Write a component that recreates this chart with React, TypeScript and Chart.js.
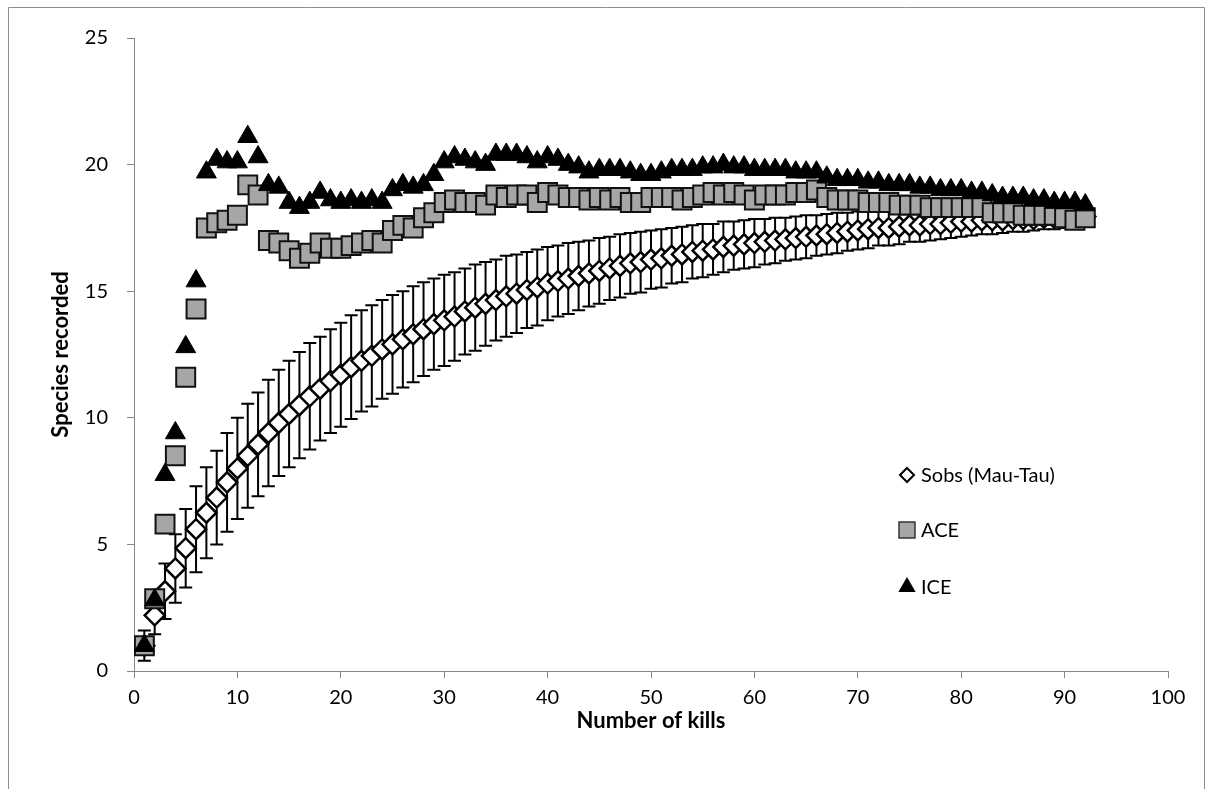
import { useEffect, useRef } from "react";
import { Chart, registerables } from "chart.js";

Chart.register(...registerables);

// Number of kills sampled (x positions of every series)
const kills = [
  1, 2, 3, 4, 5, 6, 7, 8, 9, 10, 11, 12, 13, 14, 15, 16, 17, 18, 19, 20,
  21, 22, 23, 24, 25, 26, 27, 28, 29, 30, 31, 32, 33, 34, 35, 36, 37, 38, 39, 40,
  41, 42, 43, 44, 45, 46, 47, 48, 49, 50, 51, 52, 53, 54, 55, 56, 57, 58, 59, 60,
  61, 62, 63, 64, 65, 66, 67, 68, 69, 70, 71, 72, 73, 74, 75, 76, 77, 78, 79, 80,
  81, 82, 83, 84, 85, 86, 87, 88, 89, 90, 91, 92,
];

// Sobs (Mau-Tau) expected species richness
const sobs = [
  1.0, 2.2, 3.15, 4.05, 4.85, 5.6, 6.25, 6.85, 7.45, 8.0,
  8.5, 8.95, 9.4, 9.8, 10.15, 10.5, 10.85, 11.15, 11.45, 11.7,
  12.0, 12.25, 12.45, 12.7, 12.9, 13.1, 13.3, 13.5, 13.7, 13.85,
  14.0, 14.2, 14.35, 14.5, 14.65, 14.8, 14.9, 15.05, 15.15, 15.3,
  15.4, 15.5, 15.6, 15.7, 15.8, 15.9, 16.0, 16.1, 16.15, 16.25,
  16.3, 16.4, 16.45, 16.55, 16.6, 16.65, 16.75, 16.8, 16.85, 16.9,
  16.95, 17.0, 17.05, 17.1, 17.15, 17.2, 17.25, 17.3, 17.35, 17.4,
  17.45, 17.5, 17.5, 17.55, 17.6, 17.6, 17.65, 17.65, 17.7, 17.75,
  17.75, 17.8, 17.8, 17.8, 17.85, 17.85, 17.85, 17.9, 17.9, 17.9,
  17.95, 17.95,
];

// Standard deviation of Sobs (error bars)
const sobsSd = [
  0.6, 0.75, 1.1, 1.35, 1.55, 1.7, 1.8, 1.85, 1.95, 2.0,
  2.05, 2.05, 2.1, 2.1, 2.1, 2.1, 2.1, 2.05, 2.05, 2.05,
  2.05, 2.0, 2.0, 1.95, 1.95, 1.9, 1.9, 1.85, 1.8, 1.8,
  1.75, 1.7, 1.7, 1.65, 1.6, 1.6, 1.55, 1.5, 1.5, 1.45,
  1.4, 1.4, 1.35, 1.3, 1.3, 1.25, 1.25, 1.2, 1.2, 1.15,
  1.15, 1.1, 1.1, 1.05, 1.05, 1.0, 1.0, 0.95, 0.95, 0.95,
  0.9, 0.9, 0.85, 0.85, 0.85, 0.8, 0.8, 0.8, 0.75, 0.75,
  0.75, 0.7, 0.7, 0.7, 0.65, 0.65, 0.65, 0.6, 0.6, 0.6,
  0.55, 0.55, 0.55, 0.5, 0.5, 0.5, 0.45, 0.45, 0.45, 0.4,
  0.4, 0.4,
];

// ACE estimator
const ace = [
  1.0, 2.85, 5.8, 8.5, 11.6, 14.3, 17.5, 17.7, 17.8, 18.0,
  19.2, 18.8, 17.0, 16.9, 16.6, 16.3, 16.5, 16.9, 16.7, 16.7,
  16.8, 16.9, 17.0, 16.9, 17.4, 17.6, 17.5, 17.9, 18.1, 18.5,
  18.6, 18.5, 18.5, 18.4, 18.8, 18.7, 18.8, 18.8, 18.5, 18.9,
  18.8, 18.7, 18.7, 18.6, 18.7, 18.6, 18.7, 18.5, 18.5, 18.7,
  18.7, 18.7, 18.6, 18.7, 18.8, 18.9, 18.8, 18.9, 18.8, 18.6,
  18.8, 18.8, 18.8, 18.9, 18.9, 19.0, 18.7, 18.6, 18.6, 18.6,
  18.5, 18.5, 18.5, 18.4, 18.4, 18.4, 18.3, 18.3, 18.3, 18.3,
  18.3, 18.3, 18.1, 18.1, 18.1, 18.0, 18.0, 18.0, 18.0, 17.9,
  17.8, 17.9,
];

// ICE estimator
const ice = [
  1.0, 2.8, 7.75, 9.4, 12.8, 15.4, 19.7, 20.2, 20.1, 20.1,
  21.1, 20.3, 19.2, 19.1, 18.5, 18.3, 18.5, 18.9, 18.6, 18.5,
  18.6, 18.5, 18.6, 18.5, 19.0, 19.2, 19.1, 19.2, 19.6, 20.1,
  20.3, 20.2, 20.1, 20.0, 20.4, 20.4, 20.4, 20.3, 20.1, 20.3,
  20.2, 20.0, 19.9, 19.7, 19.8, 19.8, 19.8, 19.7, 19.6, 19.6,
  19.7, 19.8, 19.8, 19.8, 19.9, 19.9, 20.0, 19.9, 19.9, 19.8,
  19.8, 19.8, 19.8, 19.7, 19.7, 19.7, 19.5, 19.4, 19.4, 19.4,
  19.3, 19.3, 19.2, 19.2, 19.2, 19.1, 19.1, 19.0, 19.0, 19.0,
  18.9, 18.9, 18.8, 18.7, 18.7, 18.7, 18.6, 18.6, 18.5, 18.5,
  18.5, 18.4,
];

const seriesNames = ["Sobs (Mau-Tau)", "ACE", "ICE"];
const xTitle = "Number of kills";
const yTitle = "Species recorded";

const FONT = "Lato, 'Open Sans', sans-serif";
const AXIS_GREY = "#868686";
const ACE_FILL = "#a6a6a6";

const toPoints = (ys: number[]) => kills.map((k, i) => ({ x: k, y: ys[i] }));

// Vertical error bars with caps, drawn beneath the markers
const errorBarPlugin = {
  id: "sobsErrorBars",
  beforeDatasetsDraw(chart: any) {
    const { ctx, scales } = chart;
    const xs = scales.x;
    const ys = scales.y;
    ctx.save();
    ctx.strokeStyle = "#000";
    ctx.lineWidth = 2;
    const cap = 6.5;
    kills.forEach((k, i) => {
      const px = xs.getPixelForValue(k);
      const top = ys.getPixelForValue(sobs[i] + sobsSd[i]);
      const bot = ys.getPixelForValue(sobs[i] - sobsSd[i]);
      ctx.beginPath();
      ctx.moveTo(px, top);
      ctx.lineTo(px, bot);
      ctx.moveTo(px - cap, top);
      ctx.lineTo(px + cap, top);
      ctx.moveTo(px - cap, bot);
      ctx.lineTo(px + cap, bot);
      ctx.stroke();
    });
    ctx.restore();
  },
};

// Outer frame of the chart object (open at the bottom edge of the page)
const framePlugin = {
  id: "outerFrame",
  afterDraw(chart: any) {
    const { ctx, width, height } = chart;
    ctx.save();
    ctx.strokeStyle = "#8c8c8c";
    ctx.lineWidth = 1;
    ctx.beginPath();
    ctx.moveTo(0.5, height);
    ctx.lineTo(0.5, 0.5);
    ctx.lineTo(width - 1.5, 0.5);
    ctx.lineTo(width - 1.5, height);
    ctx.stroke();
    ctx.restore();
  },
};

// Legend placed inside the plot area, lower right
const legendPlugin = {
  id: "insetLegend",
  afterDraw(chart: any) {
    const { ctx } = chart;
    const mx = 899;
    const tx = 913;
    const rows = [468, 523, 580];
    ctx.save();
    ctx.font = `20px ${FONT}`;
    ctx.textBaseline = "middle";
    ctx.textAlign = "left";
    rows.forEach((ry, i) => {
      ctx.beginPath();
      if (i === 0) {
        const r = 7;
        ctx.moveTo(mx - r, ry);
        ctx.lineTo(mx, ry - r);
        ctx.lineTo(mx + r, ry);
        ctx.lineTo(mx, ry + r);
        ctx.closePath();
        ctx.fillStyle = "#fff";
        ctx.fill();
        ctx.lineWidth = 2;
        ctx.strokeStyle = "#000";
        ctx.stroke();
      } else if (i === 1) {
        const h = 8;
        ctx.rect(mx - h, ry - h, 2 * h, 2 * h);
        ctx.fillStyle = ACE_FILL;
        ctx.fill();
        ctx.lineWidth = 1.5;
        ctx.strokeStyle = "#333";
        ctx.stroke();
      } else {
        const r = 10;
        ctx.moveTo(mx, ry - r);
        ctx.lineTo(mx + r * 0.866, ry + r * 0.5);
        ctx.lineTo(mx - r * 0.866, ry + r * 0.5);
        ctx.closePath();
        ctx.fillStyle = "#000";
        ctx.fill();
      }
      ctx.fillStyle = "#000";
      ctx.fillText(seriesNames[i], tx, ry + 1);
    });
    ctx.restore();
  },
};

export default function App() {
  const canvasRef = useRef<HTMLCanvasElement | null>(null);

  useEffect(() => {
    const canvas = canvasRef.current;
    if (!canvas) return;
    const chart = new Chart(canvas, {
      type: "scatter",
      data: {
        datasets: [
          {
            label: seriesNames[0],
            data: toPoints(sobs),
            pointStyle: "rectRot",
            pointRadius: 10,
            pointBorderWidth: 2.5,
            pointBackgroundColor: "#fff",
            pointBorderColor: "#000",
            showLine: false,
            order: 2,
          },
          {
            label: seriesNames[1],
            data: toPoints(ace),
            pointStyle: "rect",
            pointRadius: 13.4,
            pointBorderWidth: 2,
            pointBackgroundColor: ACE_FILL,
            pointBorderColor: "#111",
            showLine: false,
            order: 1,
          },
          {
            label: seriesNames[2],
            data: toPoints(ice),
            pointStyle: "triangle",
            pointRadius: 11.5,
            pointBorderWidth: 1,
            pointBackgroundColor: "#000",
            pointBorderColor: "#000",
            showLine: false,
            order: 0,
          },
        ],
      },
      options: {
        animation: false,
        responsive: false,
        maintainAspectRatio: false,
        devicePixelRatio: 1,
        layout: { padding: { left: 40, top: 29, right: 38, bottom: 55 } },
        plugins: {
          legend: { display: false },
          tooltip: { enabled: false },
        },
        scales: {
          x: {
            type: "linear",
            min: 0,
            max: 100,
            afterFit: (s: any) => {
              s.height = 63;
            },
            ticks: {
              stepSize: 10,
              padding: 8,
              color: "#000",
              font: { family: FONT, size: 20 },
            },
            grid: {
              drawOnChartArea: false,
              drawTicks: true,
              tickLength: 7,
              tickColor: AXIS_GREY,
            },
            border: { color: AXIS_GREY, width: 1 },
            title: {
              display: true,
              text: xTitle,
              color: "#000",
              padding: 0,
              font: { family: FONT, size: 22, weight: "bold" },
            },
          },
          y: {
            type: "linear",
            min: 0,
            max: 25,
            afterFit: (s: any) => {
              s.width = 86;
            },
            ticks: {
              stepSize: 5,
              padding: 19,
              color: "#000",
              font: { family: FONT, size: 20 },
            },
            grid: {
              drawOnChartArea: false,
              drawTicks: true,
              tickLength: 7,
              tickColor: AXIS_GREY,
            },
            border: { color: AXIS_GREY, width: 1 },
            title: {
              display: true,
              text: yTitle,
              color: "#000",
              padding: 0,
              font: { family: FONT, size: 22, weight: "bold" },
            },
          },
        },
      },
      plugins: [errorBarPlugin, framePlugin, legendPlugin],
    });
    return () => chart.destroy();
  }, []);

  return (
    <div style={{ position: "fixed", left: 0, top: 0, width: 1207, height: 789, background: "#fff" }}>
      <canvas
        ref={canvasRef}
        width={1198}
        height={782}
        style={{ position: "absolute", left: 8, top: 7, width: 1198, height: 782 }}
      />
    </div>
  );
}
